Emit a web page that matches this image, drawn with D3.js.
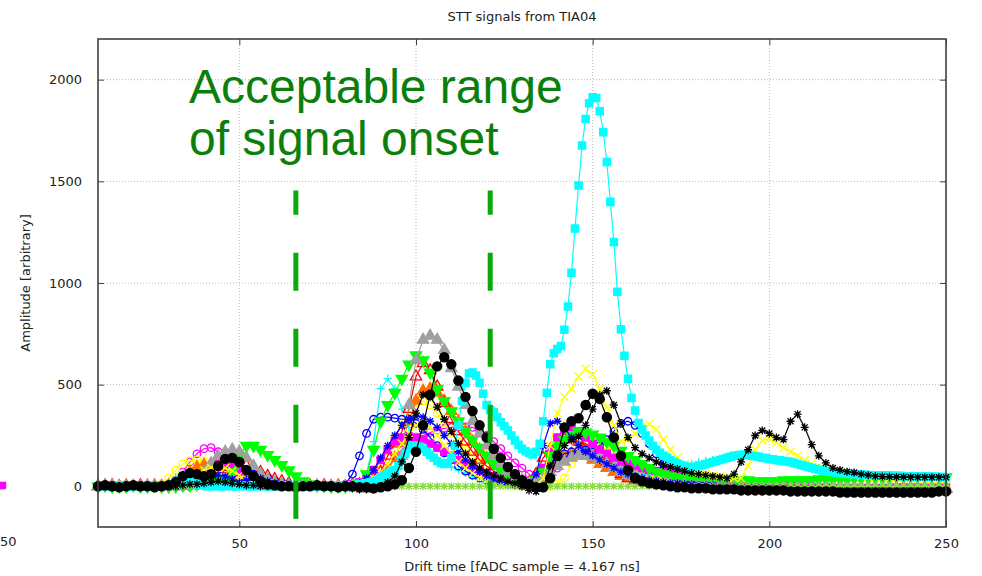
<!DOCTYPE html>
<html><head><meta charset="utf-8">
<script src="https://cdn.jsdelivr.net/npm/d3@7"></script>
<style>body{margin:0;background:#fff}svg{display:block}</style>
</head><body>
<svg id="c" width="982" height="576"></svg>
<script>
// ---------------- DATA ----------------
const chartTitle = "STT signals from TIA04";
const xLabel = "Drift time [fADC sample = 4.167 ns]";
const yLabel = "Amplitude [arbitrary]";
const noteLines = ["Acceptable range", "of signal onset"];
const xTicks = [50, 100, 150, 200, 250];
const yTicks = [0, 500, 1000, 1500, 2000];
const onsetWindow = [66, 121];          // acceptable onset range (samples)
const onsetSpan = [-160, 1455];          // vertical extent of the marker lines
const xs2 = d3.range(10, 251, 2);        // samples, step 2
const xs1 = d3.range(10, 251, 1);        // samples, step 1

const limeFlat = [
 0,0,0,0,0,0,0,0,0,0, 0,0,0,0,0,0,0,0,0,0, 0,0,0,0,0,0,0,0,0,0,
 0,0,0,0,0,0,0,0,0,0, 0,0,0,0,0,0,0,0,0,0, 0,0,0,0,0,0,0,0,0,0,
 0,0,0,0,0,0,0,0,0,0, 0,0,0,0,0,0,0,0,0,0, 0,0,0,0,0,0,0,0,0,0,
 0,0,0,0,0,0,0,0,0,0, 0,0,0,0,0,0,0,0,0,0, 0,0,0,0,0,0,0,0,0,0, 0];

const magentaO = [
 0,0,0,5,0,0,5,0,0,5,
 10,30,70,120,160,185,190,170,120,70,
 40,20,10,5,0,0,0,5,0,0,
 0,0,0,5,0,0,5,10,20,40,
 50,90,140,180,210,235,250,265,275,285,
 290,292,292,290,275,250,220,185,150,115,
 90,60,35,25,50,90,130,160,175,170,
 150,130,110,95,80,70,60,50,40,30,
 25,20,15,10,5,0,-5,-5,-5,-10,
 -10,-10,-5,-5,-10,-10,-10,-10,-15,-15,
 -15,-15,-10,-10,-15,-15,-15,-20,-15,-15,
 -20,-20,-15,-15,-20,-20,-20,-15,-15,-15,
 -15];

const magentaSq = [
 0,0,5,0,0,0,0,5,0,0,
 0,0,5,10,30,60,90,110,115,100,
 70,40,20,10,5,0,0,0,5,0,
 0,0,5,0,0,5,10,20,40,80,
 130,180,220,240,245,240,230,210,190,170,
 150,130,110,90,75,60,50,40,30,20,
 15,20,40,90,170,240,280,290,270,240,
 210,180,160,140,120,110,100,90,80,75,
 70,60,55,50,45,40,35,30,30,25,
 25,20,20,15,15,10,10,5,5,0,
 0,-5,-5,-5,-10,-10,-10,-10,-10,-10,
 -10,-10,-10,-5,-5,-5,-5,-10,-10,-5,
 -5];

const blueO = [
 0,5,0,0,5,0,0,5,0,0,
 0,5,0,0,5,5,10,20,40,60,
 70,70,60,50,40,25,15,10,5,0,
 0,0,5,0,0,10,60,150,260,330,
 340,340,335,330,330,310,280,240,200,165,
 130,100,75,55,40,30,25,20,15,10,
 5,20,40,70,110,140,160,170,175,180,
 185,200,230,270,310,320,300,260,210,160,
 110,70,45,30,25,20,20,15,15,10,
 10,10,5,5,5,0,0,-5,-5,-5,
 -10,-10,-10,-10,-10,-15,-15,-15,-10,-10,
 -15,-15,-10,-10,-15,-15,-10,-10,-15,-15,
 -15];

const blueStar = [
 0,0,5,0,0,5,0,0,0,5,
 0,0,5,10,20,35,45,55,50,35,
 20,30,45,40,25,15,5,0,0,5,
 0,0,0,5,0,0,5,15,40,80,
 140,200,250,300,330,345,340,320,290,250,
 210,170,130,100,70,50,35,20,10,5,
 0,10,60,200,310,320,290,240,200,170,
 150,130,110,90,70,60,50,40,30,25,
 20,15,15,10,10,5,5,5,0,0,
 0,-5,-5,-5,-5,-5,-10,-10,-10,-10,
 -10,-10,-15,-15,-15,-15,-15,-15,-20,-20,
 -20,-20,-15,-15,-20,-20,-20,-20,-15,-15,
 -15];

const greenTri = [
 0,5,0,0,0,5,0,0,5,0,
 0,0,5,5,10,15,20,25,35,70,
 150,200,200,180,155,130,105,80,50,25,
 10,5,5,0,0,0,5,15,60,180,
 320,400,460,530,600,645,620,560,480,420,
 370,320,270,230,190,150,110,80,55,35,
 20,15,30,70,150,200,230,250,270,265,
 255,240,220,200,175,150,130,110,90,70,
 60,50,45,40,40,35,35,30,30,30,
 30,30,30,25,25,25,25,30,30,30,
 30,30,35,35,35,35,35,40,40,40,
 40,40,40,45,45,45,45,45,45,45,
 45];

const redTri = [
 0,0,5,0,0,0,5,0,0,0,
 0,5,10,20,40,60,75,85,95,100,
 105,100,90,70,50,35,25,15,10,5,
 0,0,5,0,0,0,5,10,20,40,
 70,150,210,270,380,540,605,570,490,410,
 330,270,220,170,130,100,75,55,35,20,
 10,20,60,140,180,210,230,235,220,210,
 190,160,120,90,60,40,30,25,20,15,
 10,10,5,5,5,5,0,0,0,-5,
 -5,-5,-5,0,0,0,-5,-5,-5,-10,
 -10,-10,-10,-10,-5,-5,-10,-10,-10,-10,
 -10,-10,-10,-10,-10,-10,-10,-10,-10,-10,
 -10];

const orangeTri = [
 0,5,0,0,5,0,0,0,5,0,
 5,15,40,70,95,105,110,110,100,85,
 75,65,50,35,20,10,5,5,0,0,
 5,0,0,0,5,0,0,5,10,20,
 40,80,140,220,320,420,470,480,460,420,
 370,320,270,220,180,140,100,70,45,25,
 10,5,20,60,100,130,150,160,160,150,
 130,110,90,70,50,40,30,25,20,15,
 10,10,5,5,0,0,0,-5,-5,-5,
 -5,-5,-5,-10,-10,-10,-10,-10,-10,-10,
 -10,-15,-15,-15,-15,-15,-15,-15,-15,-15,
 -15,-15,-15,-15,-15,-15,-15,-15,-15,-15,
 -15];

const grayTri = [
 0,0,5,0,0,0,0,5,0,0,
 0,5,10,20,40,70,110,150,170,180,
 170,140,100,60,35,20,10,5,0,0,
 0,5,0,0,0,0,0,5,5,10,
 15,25,60,150,400,620,720,740,720,670,
 580,490,400,320,260,200,150,110,75,50,
 30,15,20,40,70,100,120,140,150,150,
 145,130,110,90,70,55,45,35,25,20,
 15,10,5,5,0,0,0,-5,-5,-5,
 -5,-5,-10,-10,-10,-10,-10,-10,-10,-10,
 -10,-10,-10,-10,-10,-10,-10,-10,-10,-10,
 -10,-10,-10,-10,-10,-10,-10,-10,-10,-10,
 -10];

const yellowO = [
 0,5,0,0,0,5,0,0,5,15,
 40,80,110,125,130,125,115,95,70,45,
 25,15,10,5,0,0,5,0,0,0,
 0,0,5,0,0,0,5,10,25,60,
 110,170,240,310,370,410,420,400,360,310,
 260,220,180,150,120,95,75,55,40,25,
 15,5,0,0,0,10,40,110,180,220,
 230,220,200,170,140,110,80,60,45,35,
 25,20,15,10,10,5,5,5,0,0,
 0,0,0,-5,-5,-5,-5,-5,-5,-5,
 -10,-10,-10,-10,-10,-10,-10,-10,-10,-10,
 -10,-10,-10,-10,-10,-10,-10,-10,-10,-10,
 -10];

const yellowX = [
 0,0,5,0,0,0,5,0,0,0,
 0,5,20,40,60,80,90,95,90,75,
 55,35,20,10,5,0,0,5,0,0,
 0,5,0,0,0,0,5,10,20,40,
 70,110,160,210,260,300,310,290,250,200,
 160,120,90,65,45,30,20,15,10,5,
 0,0,5,40,200,360,440,480,540,578,
 550,480,390,300,220,230,260,290,305,280,
 230,180,140,110,90,75,65,55,50,45,
 40,40,100,180,225,235,215,190,170,150,
 130,110,95,80,70,65,60,55,50,45,
 45,45,40,40,40,40,35,35,35,35,
 35];

const cyanPlus = [
 0,0,5,0,0,0,5,0,0,5,
 20,45,60,60,50,35,20,10,5,0,
 0,0,5,0,0,0,5,0,0,0,
 0,0,5,0,0,5,10,20,60,220,
 480,530,480,380,290,220,180,150,130,110,
 95,80,65,50,40,30,25,20,15,10,
 10,15,40,90,150,190,210,220,210,190,
 170,150,130,110,95,80,70,60,55,60,
 70,80,90,100,110,120,125,130,135,140,
 145,150,150,150,145,140,135,130,120,110,
 100,95,90,85,80,75,70,65,60,55,
 55,50,50,50,50,50,50,50,50,50,
 50];

// step-1 series (one value per sample, x = 10..250)
const cyanSq = [
 0,0,5,0,0,0,5,0,0,0,
 0,5,0,0,0,5,0,0,0,5,
 5,10,15,20,25,25,20,15,10,5,
 5,0,0,5,0,0,0,5,0,0,
 0,5,0,0,0,0,5,0,0,0,
 0,0,5,0,0,0,0,5,0,0,
 0,0,0,5,0,0,0,0,5,0,
 0,0,5,5,10,10,15,20,25,35,
 45,55,65,75,80,100,130,160,185,200,
 200,195,185,170,155,140,125,115,110,115,
 140,200,300,420,510,555,560,545,510,455,
 400,375,365,340,315,295,275,250,225,205,
 185,172,165,157,170,210,320,460,600,655,
 675,690,770,884,1050,1268,1480,1676,1807,1884,
 1913,1910,1845,1742,1595,1399,1202,957,773,642,
 529,435,373,312,280,250,225,200,180,165,
 150,140,130,120,112,105,100,95,95,95,
 100,105,110,115,120,125,130,135,140,145,
 150,152,155,155,155,150,148,145,140,138,
 135,132,130,127,125,122,120,115,110,105,
 100,95,90,85,80,78,75,72,70,68,
 65,64,62,61,60,59,58,57,56,55,
 55,54,54,53,53,52,52,51,51,50,
 50,50,49,49,48,48,47,47,46,46,
 45];

const blackCirc = [
 0,5,0,-5,0,5,0,0,-5,0,
 5,20,50,65,60,50,60,100,135,140,
 120,80,50,25,10,5,0,0,-5,0,
 0,5,0,0,-5,0,0,-5,-5,-10,
 -5,0,10,30,90,170,300,450,590,635,
 600,520,440,370,300,240,185,140,95,60,
 30,10,-5,-5,40,150,290,320,335,400,
 455,430,340,240,150,80,40,25,15,10,
 5,0,-5,-5,-10,-10,-10,-15,-15,-15,
 -15,-20,-20,-20,-20,-20,-20,-20,-25,-25,
 -25,-25,-25,-25,-25,-30,-30,-30,-30,-30,
 -30,-30,-30,-30,-30,-30,-30,-30,-30,-25,
 -25];

const blackStar = [
 5,0,-5,0,5,0,-5,0,5,0,
 5,0,5,10,10,15,20,25,20,15,
 10,5,5,0,0,5,0,0,-5,0,
 0,5,0,0,0,-5,-10,-15,-15,-15,
 0,20,50,120,240,360,450,440,390,330,
 270,210,160,120,90,70,55,40,25,15,
 0,-20,-25,-10,100,160,200,230,245,300,
 380,450,470,400,310,240,190,160,140,120,
 105,95,85,75,65,60,55,50,45,40,
 60,120,180,250,275,260,240,230,320,355,
 290,205,150,115,90,80,72,68,60,55,
 50,48,47,46,46,45,45,45,45,45,
 45];

// stray marks drawn beyond the left edge in the original picture
const strayX = [-17.5, -17];
const strayY = [0, 5];

// ---------------- CHART ----------------
const m = {l: 98, r: 946, t: 39, b: 527};
const svg = d3.select("#c");
const x = d3.scaleLinear().domain([10, 250]).range([m.l, m.r]);
const y = d3.scaleLinear().domain([-200, 2200]).range([m.b, m.t]);
const FONT = "'DejaVu Sans', sans-serif";

// grid
const grid = svg.append("g");
grid.selectAll("line.gx").data(xTicks.filter(t => t < 250)).join("line")
  .attr("x1", d => x(d)).attr("x2", d => x(d)).attr("y1", m.t).attr("y2", m.b)
  .attr("stroke", "#b8b8b8").attr("stroke-dasharray", "1,2");
grid.selectAll("line.gy").data(yTicks).join("line")
  .attr("y1", d => y(d)).attr("y2", d => y(d)).attr("x1", m.l).attr("x2", m.r)
  .attr("stroke", "#b8b8b8").attr("stroke-dasharray", "1,2");

// axes with inward ticks
const axB = d3.axisBottom(x).tickValues(xTicks).tickSize(-6).tickPadding(12).tickFormat(d3.format("d"));
const axL = d3.axisLeft(y).tickValues(yTicks).tickSize(-6).tickPadding(16).tickFormat(d3.format("d"));
const axR = d3.axisRight(y).tickValues(yTicks).tickSize(-6).tickFormat("");
const axT = d3.axisTop(x).tickValues(xTicks).tickSize(-6).tickFormat("");
function styleAx(g) {
  g.select(".domain").remove();
  g.selectAll(".tick line").attr("stroke", "#404040");
  g.selectAll(".tick text").attr("fill", "#222").style("font-family", FONT).style("font-size", "13px");
}
svg.append("g").attr("transform", `translate(0,${m.b})`).call(axB).call(styleAx);
svg.append("g").attr("transform", `translate(${m.l},0)`).call(axL).call(styleAx);
svg.append("g").attr("transform", `translate(${m.r},0)`).call(axR).call(styleAx);
svg.append("g").attr("transform", `translate(0,${m.t})`).call(axT).call(styleAx);

// markers
function markerPath(type, s) {
  const plus = `M${-s},0H${s}M0,${-s}V${s}`;
  const k = s * 0.75;
  const ex = `M${-k},${-k}L${k},${k}M${-k},${k}L${k},${-k}`;
  if (type === "plus") return plus;
  if (type === "x") return `M${-s},${-s}L${s},${s}M${-s},${s}L${s},${-s}`;
  if (type === "star") return plus + ex;
  if (type === "circle") return d3.symbol(d3.symbolCircle, 44)();
  if (type === "dot") return d3.symbol(d3.symbolCircle, 66)();
  if (type === "square") return d3.symbol(d3.symbolSquare, 52)();
  if (type === "tri" || type === "tridown") return d3.symbol(d3.symbolTriangle, 56)();
  return d3.symbol(d3.symbolCircle, 36)();
}

const series = [
  {xs: xs2, ys: magentaO,  color: "#ff00ff", type: "circle", filled: false},
  {xs: xs2, ys: yellowO,   color: "#ffff00", type: "circle", filled: false},
  {xs: xs2, ys: cyanPlus,  color: "#00ffff", type: "plus",   filled: false},
  {xs: xs2, ys: orangeTri, color: "#ff7000", type: "tri",    filled: true},
  {xs: xs2, ys: redTri,    color: "#ff0000", type: "tri",    filled: false},
  {xs: xs2, ys: blueO,     color: "#0000ff", type: "circle", filled: false},
  {xs: xs2, ys: magentaSq, color: "#ff00ff", type: "square", filled: true},
  {xs: xs2, ys: greenTri,  color: "#00ff00", type: "tridown",filled: true},
  {xs: xs2, ys: grayTri,   color: "#a0a0a0", type: "tri",    filled: true},
  {xs: xs2, ys: yellowX,   color: "#ffff00", type: "x",      filled: false},
  {xs: xs2, ys: blueStar,  color: "#0000ff", type: "star",   filled: false},
  {xs: xs2, ys: limeFlat,  color: "#86dc40", type: "star",   filled: false},
  {xs: xs1, ys: cyanSq,    color: "#00ffff", type: "square", filled: true},
  {xs: xs2, ys: blackCirc, color: "#000000", type: "dot",    filled: true},
  {xs: xs2, ys: blackStar, color: "#000000", type: "star",   filled: false}
];

const line = d3.line().x(d => x(d[0])).y(d => y(d[1]));
const plot = svg.append("g");
series.forEach(s => {
  const pts = s.xs.map((xv, i) => [xv, s.ys[i]]).filter(p => p[1] !== undefined);
  const g = plot.append("g");
  g.append("path").attr("d", line(pts)).attr("fill", "none")
    .attr("stroke", s.color).attr("stroke-width", 1.2);
  const shape = markerPath(s.type, 4);
  const rot = s.type === "tridown" ? " rotate(180)" : "";
  g.selectAll("path.m").data(pts).join("path")
    .attr("transform", d => `translate(${x(d[0])},${y(d[1])})${rot}`)
    .attr("d", shape)
    .attr("fill", s.filled ? s.color : "none")
    .attr("stroke", s.color).attr("stroke-width", 1.3);
});

// stray marks at left edge
const stray = strayX.map((v, i) => [v, strayY[i]]);
svg.append("g").selectAll("path").data(stray).join("path")
  .attr("transform", d => `translate(${x(d[0])},${y(d[1])})`)
  .attr("d", markerPath("square", 3)).attr("fill", (d, i) => i ? "#ff00ff" : "#00ffff");
svg.append("text").attr("x", 0).attr("y", m.b + 19).attr("text-anchor", "start")
  .style("font-family", FONT).style("font-size", "13px").attr("fill", "#222").text("50");

// onset window lines
svg.append("g").selectAll("line").data(onsetWindow).join("line")
  .attr("x1", d => x(d)).attr("x2", d => x(d))
  .attr("y1", y(onsetSpan[0])).attr("y2", y(onsetSpan[1]))
  .attr("stroke", "#0aaa0a").attr("stroke-width", 5).attr("stroke-dasharray", "38,38");

// frame
svg.append("rect").attr("x", m.l).attr("y", m.t).attr("width", m.r - m.l).attr("height", m.b - m.t)
  .attr("fill", "none").attr("stroke", "#404040").attr("stroke-width", 1.6);

// annotation
svg.append("g").selectAll("text").data(noteLines).join("text")
  .attr("x", 189).attr("y", (d, i) => 103 + i * 52)
  .style("font-family", "'Liberation Sans', Arial, sans-serif").style("font-size", "48px")
  .attr("fill", "#0b7f0b").text(d => d);

// titles
svg.append("text").attr("x", (m.l + m.r) / 2).attr("y", 21).attr("text-anchor", "middle")
  .style("font-family", FONT).style("font-size", "13px").attr("fill", "#222").text(chartTitle);
svg.append("text").attr("x", (m.l + m.r) / 2).attr("y", 571).attr("text-anchor", "middle")
  .style("font-family", FONT).style("font-size", "13px").attr("fill", "#222").text(xLabel);
svg.append("text").attr("transform", `translate(30,${(m.t + m.b) / 2}) rotate(-90)`)
  .attr("text-anchor", "middle")
  .style("font-family", FONT).style("font-size", "13px").attr("fill", "#222").text(yLabel);
</script>
</body></html>
